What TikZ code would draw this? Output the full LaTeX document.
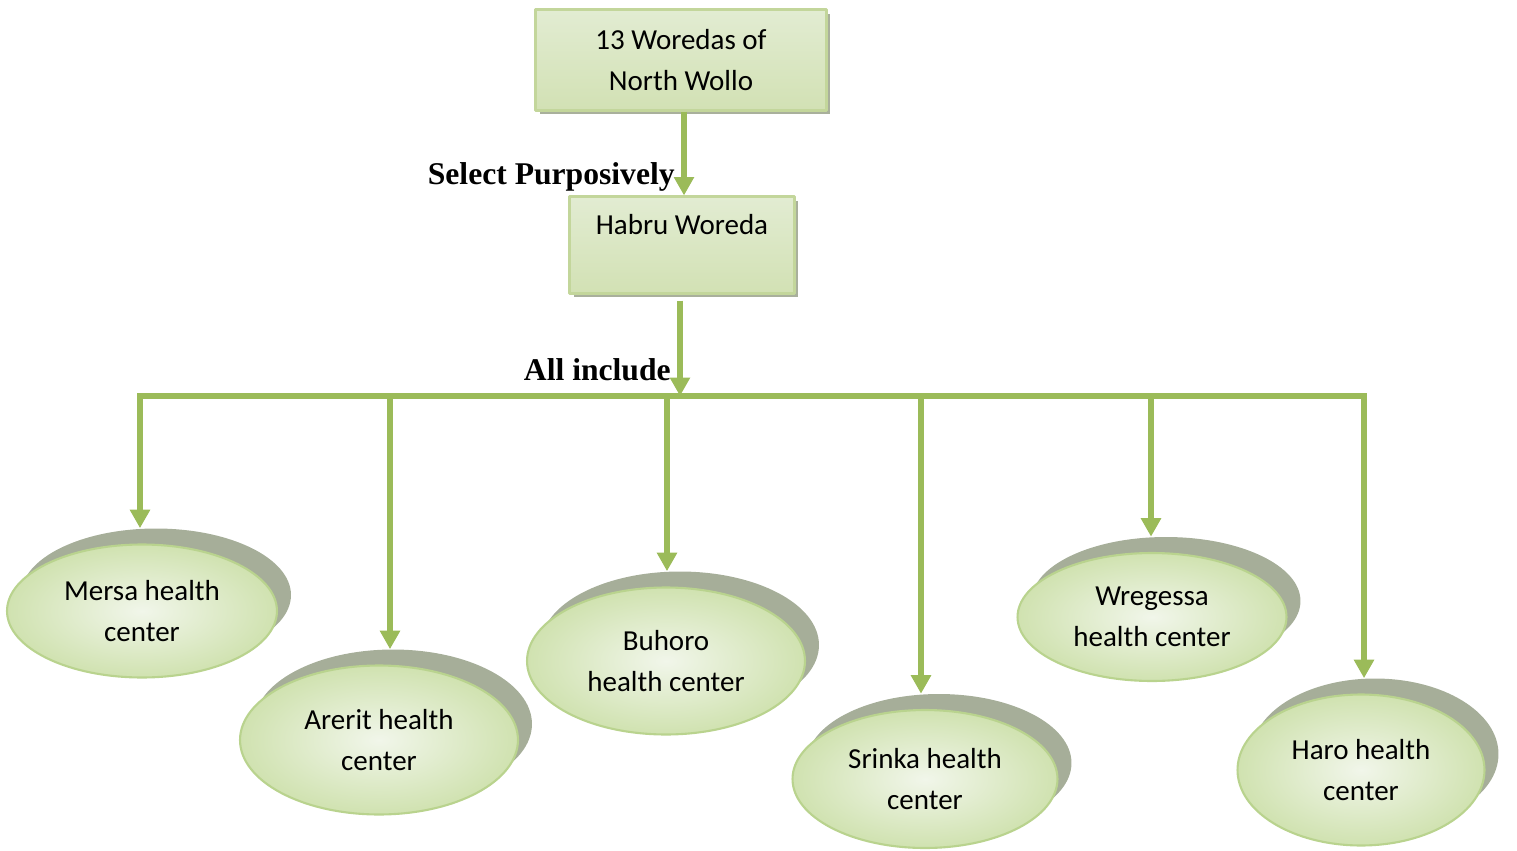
\documentclass[tikz,border=0pt]{standalone}
\usepackage{fontspec}
\setmainfont{Carlito}
\newfontfamily\labelfont{Liberation Serif}
\usetikzlibrary{arrows.meta,shapes.geometric}

\definecolor{flowgreen}{HTML}{9BBB59}
\definecolor{boxline}{HTML}{C3D69B}
\definecolor{boxtop}{HTML}{E2ECD2}
\definecolor{boxmid}{HTML}{EEF4E4}
\definecolor{boxbot}{HTML}{D2E1B4}
\definecolor{boxshade}{HTML}{A9B09C}
\definecolor{hcline}{HTML}{B9D38E}
\definecolor{hcinner}{HTML}{F1F6EA}
\definecolor{hcouter}{HTML}{D0E2B0}
\definecolor{hcshade}{HTML}{A6AE99}

\begin{document}
\begin{tikzpicture}[x=0.02cm,y=-0.02cm,line join=round,
  boxtext/.style={font=\fontsize{16.5}{23}\selectfont,align=center},
  wbox/.style={boxtext,draw=boxline,line width=1.2pt,
    top color=boxtop,middle color=boxmid,bottom color=boxbot,inner sep=0pt},
  wshadow/.style={fill=boxshade,inner sep=0pt},
  hc/.style={boxtext,ellipse,draw=hcline,line width=1.2pt,
    inner color=hcinner,outer color=hcouter,inner sep=0pt},
  hcshadow/.style={ellipse,fill=hcshade,inner sep=0pt},
  flow/.style={draw=flowgreen,line width=3.4pt,
    -{Triangle[width=11pt,length=10.5pt]}},
  bar/.style={draw=flowgreen,line width=3.4pt,line cap=rect},
  steplabel/.style={font=\labelfont\bfseries\fontsize{18}{20}\selectfont,
    anchor=base east,inner sep=0pt}]

\useasboundingbox (0,0) rectangle (1517,851);

% woreda boxes
\node[wshadow,minimum width=5.82cm,minimum height=2.02cm] (top-sh) at (685,64) {};
\node[wbox,minimum width=5.82cm,minimum height=2.02cm] (top) at (681,60)
  {13 Woredas of\\North Wollo};
\node[wshadow,minimum width=4.5cm,minimum height=1.94cm] (habru-sh) at (686,249) {};
\node[wbox,minimum width=4.5cm,minimum height=1.94cm] (habru) at (682,245)
  {Habru Woreda\\~};

% health centers
\foreach \n/\x/\y/\w/\h/\t in {
  mersa/142/611/5.40/2.66/{Mersa health\\center},
  arerit/379/740/5.56/2.98/{Arerit health\\center},
  buhoro/666/661/5.56/2.94/{Buhoro\\health center},
  srinka/925/779/5.30/2.76/{Srinka health\\center},
  wregessa/1152/617/5.38/2.56/{Wregessa\\health center},
  haro/1361/770/4.94/3.02/{Haro health\\center}}{
  \node[hcshadow,minimum width=\w cm,minimum height=\h cm] (\n-sh) at (\x+14,\y-16) {};
  \node[hc,minimum width=\w cm,minimum height=\h cm] (\n) at (\x,\y) {\t};
}

% connectors
\draw[flow] ([xshift=0.06cm]top.south) -- ([xshift=0.06cm]top.south |- habru.north);
\node[steplabel] (purp) at (675,185) {Select Purposively};

\foreach \n/\bx in {mersa/140,arerit/390,buhoro/667,srinka/921,wregessa/1151,haro/1364}
  \coordinate (b-\n) at (\bx,396);
\coordinate (b-mid) at ([xshift=-0.04cm]habru.south |- b-mersa);

\draw[bar] (b-mersa) -- (b-haro);
\draw[flow,shorten <=0.12cm] ([xshift=-0.04cm]habru.south) -- (b-mid);
\node[steplabel] (incl) at (671,380) {All include};

\foreach \n in {mersa,arerit,buhoro,srinka,wregessa,haro}
  \draw[flow] (b-\n) -- (b-\n |- \n-sh.north);
\end{tikzpicture}
\end{document}
